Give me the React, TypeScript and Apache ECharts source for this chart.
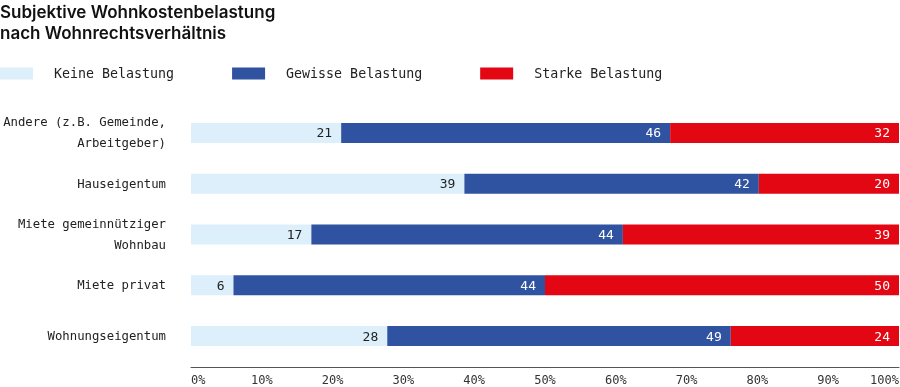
import React, { useEffect, useRef } from "react";
import * as echarts from "echarts";

const categories = [
  "Andere (z.B. Gemeinde,\nArbeitgeber)",
  "Hauseigentum",
  "Miete gemeinnütziger\nWohnbau",
  "Miete privat",
  "Wohnungseigentum",
];
const seriesNames = ["Keine Belastung", "Gewisse Belastung", "Starke Belastung"];
const keine = [21, 39, 17, 6, 28];
const gewisse = [46, 42, 44, 44, 49];
const starke = [32, 20, 39, 50, 24];
const colors = ["#dcefFB", "#2f53a1", "#e30613"];
const labelColors = ["#222222", "#ffffff", "#ffffff"];
const xTicks = [0, 10, 20, 30, 40, 50, 60, 70, 80, 90, 100];

const MONO = "'DejaVu Sans Mono', 'Liberation Mono', monospace";

export default function App() {
  const ref = useRef<HTMLDivElement>(null);
  useEffect(() => {
    if (!ref.current) return;
    const chart = echarts.init(ref.current, undefined, { renderer: "svg" });
    const raw = [keine, gewisse, starke];
    const totals = categories.map((_, i) => keine[i] + gewisse[i] + starke[i]);
    const series = raw.map((arr, s) => ({
      name: seriesNames[s],
      type: "bar",
      stack: "total",
      barWidth: 20,
      itemStyle: { color: colors[s] },
      data: arr.map((v, i) => (v / totals[i]) * 100),
      label: {
        show: true,
        position: "insideRight",
        distance: 9,
        color: labelColors[s],
        fontFamily: MONO,
        fontSize: 13,
        formatter: (p: any) => String(arr[p.dataIndex]),
      },
    }));
    chart.setOption({
      animation: false,
      title: {
        text: "Subjektive Wohnkostenbelastung\nnach Wohnrechtsverhältnis",
        left: 0,
        top: 1,
        padding: 0,
        textStyle: {
          fontFamily: "Inter, 'Noto Sans', sans-serif",
          fontSize: 17,
          fontWeight: 600,
          lineHeight: 21,
          color: "#111111",
        },
      },
      legend: {
        left: 0,
        top: 67,
        padding: 0,
        itemWidth: 33,
        itemHeight: 12,
        itemGap: 58,
        icon: "rect",
        data: seriesNames,
        textStyle: {
          fontFamily: MONO,
          fontSize: 13.3,
          color: "#222222",
          padding: [0, 0, 0, 16],
        },
      },
      grid: { left: 191, right: 1, top: 107.6, bottom: 25.6, outerBoundsMode: "none" },
      xAxis: {
        type: "value",
        min: 0,
        max: 100,
        interval: 10,
        offset: 6,
        axisLine: { show: true, lineStyle: { color: "#555555", width: 1 } },
        axisTick: { show: false },
        splitLine: { show: false },
        axisLabel: {
          fontFamily: MONO,
          fontSize: 12,
          lineHeight: 12,
          color: "#333333",
          margin: 7,
          alignMinLabel: "left",
          alignMaxLabel: "right",
          formatter: (v: number) => (xTicks.includes(v) ? v + "%" : ""),
        },
      },
      yAxis: {
        type: "category",
        inverse: true,
        data: categories,
        axisLine: { show: false },
        axisTick: { show: false },
        axisLabel: {
          fontFamily: MONO,
          fontSize: 12.3,
          color: "#222222",
          margin: 25,
          lineHeight: 21,
          align: "right",
        },
      },
      series,
    });
    return () => chart.dispose();
  }, []);
  return (
    <div
      ref={ref}
      style={{ position: "fixed", left: 0, top: 0, width: 900, height: 387 }}
    />
  );
}
